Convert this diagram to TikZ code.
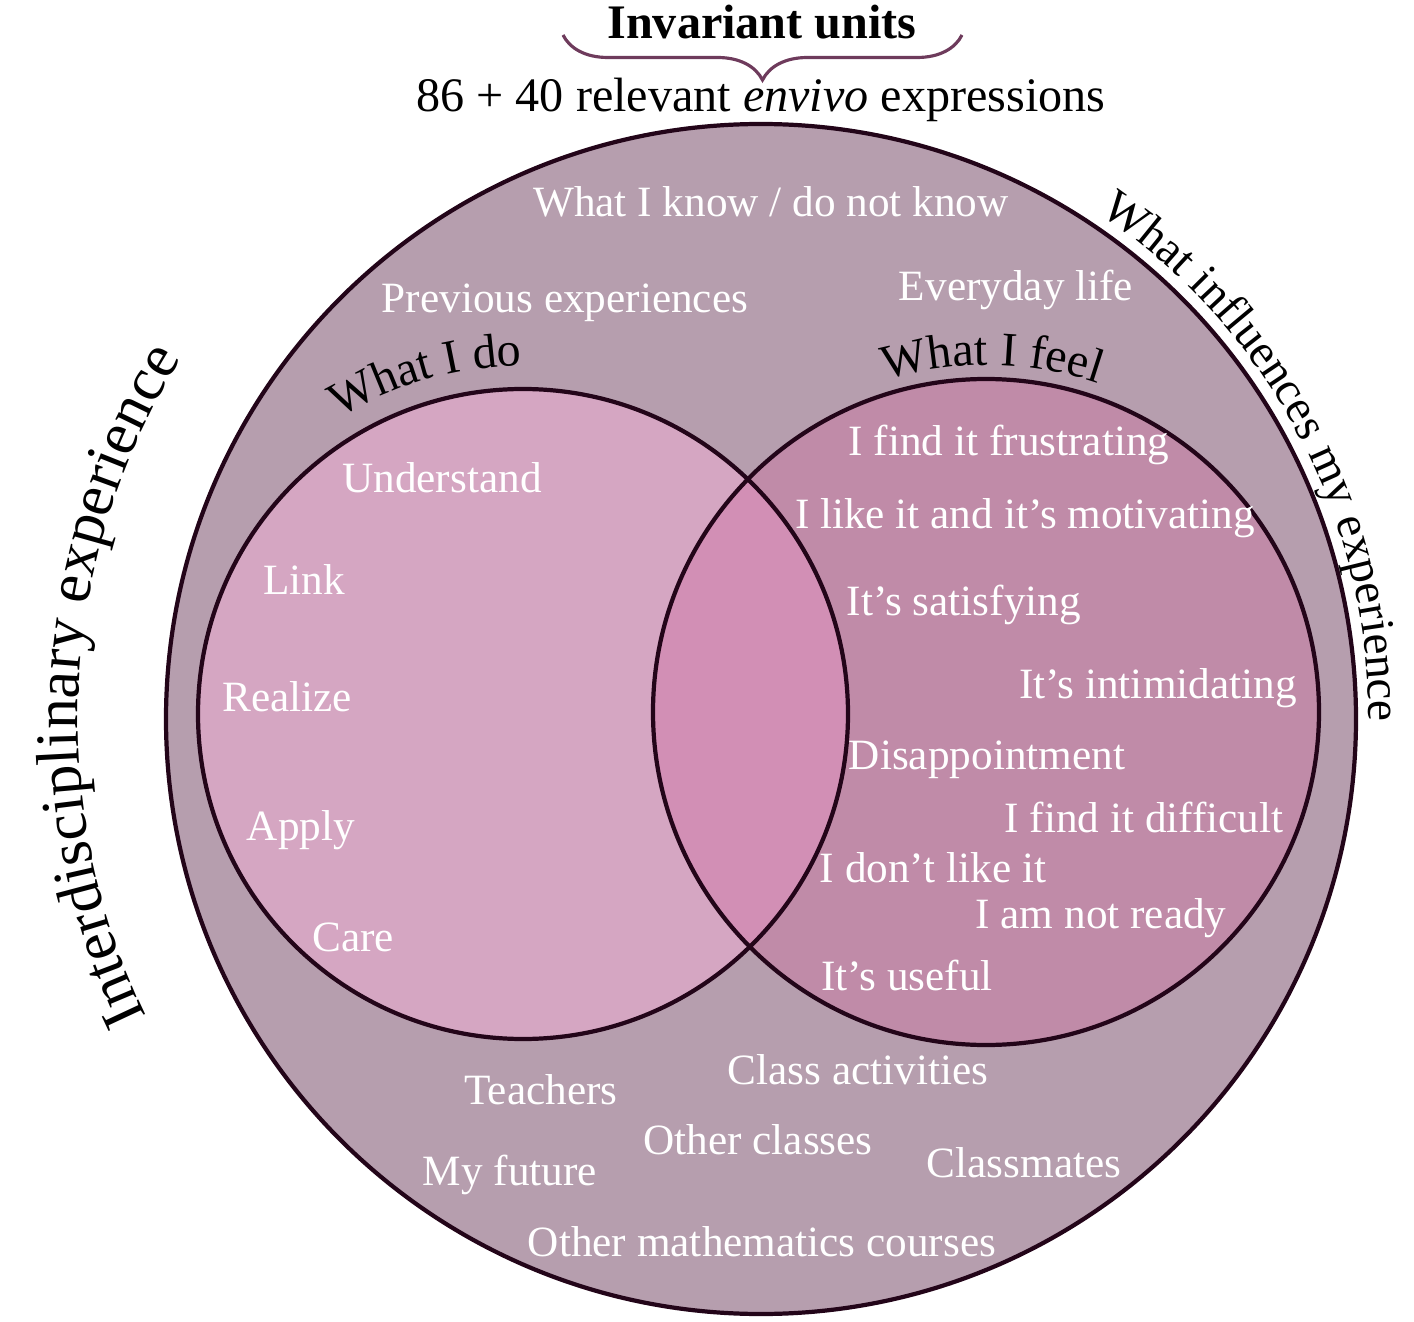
\documentclass[tikz,border=0pt]{standalone}
\usepackage{fontspec}
\setmainfont{Liberation Serif}
\usetikzlibrary{decorations.text,decorations.pathreplacing}
\definecolor{outerc}{HTML}{B69EAE}
\definecolor{doc}{HTML}{D5A6C2}
\definecolor{feelc}{HTML}{C08BA8}
\definecolor{midc}{HTML}{D28FB5}
\definecolor{edgec}{HTML}{230519}
\definecolor{bracec}{HTML}{6E3B5C}
\begin{document}
\begin{tikzpicture}[
    lbl/.style={text=white, font=\fontsize{12.3}{14}\selectfont, inner sep=0pt},
    ttl/.style={text=black, font=\fontsize{13.7}{16}\selectfont, inner sep=0pt},
    ring/.style={draw=edgec, line width=1.2pt}]
  \useasboundingbox (0,0) rectangle (14.14,13.21);

  \filldraw[ring, fill=outerc] (7.61,6.02) circle (5.95);
  \fill[doc] (5.23,6.07) circle (3.25);
  \fill[feelc] (9.86,6.09) circle (3.33);
  \begin{scope}
    \clip (5.23,6.07) circle (3.25);
    \fill[midc] (9.86,6.09) circle (3.33);
  \end{scope}
  \draw[ring] (5.23,6.07) circle (3.25);
  \draw[ring] (9.86,6.09) circle (3.33);

  \node[ttl, font=\bfseries\fontsize{13.7}{16}\selectfont] (IU) at (7.62,12.99) {Invariant units};
  \node[ttl] (EX) at (7.61,12.21) {86 + 40 relevant \emph{envivo} expressions};
  \coordinate (BL) at (5.63,12.86);
  \coordinate (BR) at (9.62,12.86);
  \draw[bracec, line width=0.9pt, decorate, decoration={brace, mirror, amplitude=0.45cm}] (BL) -- (BR);

  \path[decorate, decoration={text along path, text align=center,
      text={|\fontsize{17.5}{20}\selectfont|Interdisciplinary experience}}]
    (7.61,6.02) ++(210:6.83) arc[start angle=210, end angle=144, radius=6.83];
  \path[decorate, decoration={text along path, text align=center,
      text={|\fontsize{13.5}{15}\selectfont|What influences my experience}}]
    (7.61,6.02) ++(62:6.08) arc[start angle=62, end angle=-6, radius=6.08];
  \path[decorate, decoration={text along path, text align=center,
      text={|\fontsize{13.7}{16}\selectfont|What I do}}]
    (5.23,6.07) ++(130:3.48) arc[start angle=130, end angle=82, radius=3.48];
  \path[decorate, decoration={text along path, text align=center,
      text={|\fontsize{13.7}{16}\selectfont|What I feel}}]
    (9.86,6.09) ++(113:3.47) arc[start angle=113, end angle=65, radius=3.47];

  \node[lbl] (WK) at (7.71,11.19) {What I know / do not know};
  \node[lbl] (PE) at (5.65,10.18) {Previous experiences};
  \node[lbl] (EL) at (10.16,10.31) {Everyday life};

  \node[lbl] (UN) at (4.42,8.43) {Understand};
  \node[lbl] (LI) at (3.04,7.41) {Link};
  \node[lbl] (RE) at (2.87,6.24) {Realize};
  \node[lbl] (AP) at (3.01,4.91) {Apply};
  \node[lbl] (CA) at (3.53,3.84) {Care};

  \node[lbl] (FR) at (10.09,8.76) {I find it frustrating};
  \node[lbl] (MO) at (10.25,8.03) {I like it and it’s motivating};
  \node[lbl] (SA) at (9.64,7.16) {It’s satisfying};
  \node[lbl] (IN) at (11.58,6.33) {It’s intimidating};
  \node[lbl] (DI) at (9.87,5.61) {Disappointment};
  \node[lbl] (DF) at (11.44,5.04) {I find it difficult};
  \node[lbl] (DL) at (9.33,4.53) {I don’t like it};
  \node[lbl] (NR) at (11.01,4.03) {I am not ready};
  \node[lbl] (US) at (9.07,3.46) {It’s useful};

  \node[lbl] (TE) at (5.41,2.31) {Teachers};
  \node[lbl] (CL) at (8.58,2.51) {Class activities};
  \node[lbl] (OC) at (7.58,1.81) {Other classes};
  \node[lbl] (CM) at (10.24,1.58) {Classmates};
  \node[lbl] (MF) at (5.10,1.46) {My future};
  \node[lbl] (OM) at (7.62,0.79) {Other mathematics courses};
\end{tikzpicture}
\end{document}
